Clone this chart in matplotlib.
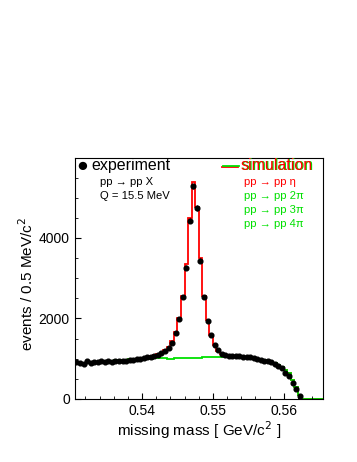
import numpy as np
import matplotlib
matplotlib.use('Agg')
import matplotlib.pyplot as plt

plt.rcParams['font.family'] = ['Liberation Sans', 'DejaVu Sans']

# binning: 70 bins of 0.5 MeV/c^2
edges = 0.5305 + 0.0005 * np.arange(71)
centers = 0.5 * (edges[:-1] + edges[1:])

# experiment (events per bin), no points beyond 0.5625
experiment = [910, 905, 880, 935, 900, 915, 910, 935, 925, 955,
              925, 945, 940, 955, 950, 975, 960, 985, 1000, 1030,
              1040, 1055, 1070, 1095, 1135, 1200, 1260, 1400, 1650, 1980,
              2540, 3265, 4430, 5280, 4740, 3435, 2530, 1945, 1590, 1340,
              1210, 1120, 1095, 1080, 1075, 1060, 1065, 1050, 1055, 1040,
              1030, 990, 960, 945, 935, 930, 860, 810, 760, 650,
              580, 400, 250, 80] + [np.nan] * 6

# simulated multi-pion background (2pi + 3pi + 4pi)
background = [880, 885, 890, 900, 905, 910, 920, 925, 935, 945,
              955, 965, 970, 975, 980, 985, 985, 990, 995, 1000,
              1005, 1005, 1010, 1010, 1010, 1015, 995, 1005, 1015, 1020,
              1020, 1025, 1025, 1030, 1030, 1030, 1035, 1040, 1040, 1045,
              1040, 1045, 1050, 1050, 1055, 1045, 1045, 1040, 1035, 1030,
              1020, 1000, 975, 960, 940, 920, 890, 850, 800, 730,
              640, 480, 300, 100, 0, 0, 0, 0, 0, 0]

# simulated pp -> pp eta signal
eta = [0] * 15 + [5, 8, 10, 15, 25,
                  40, 60, 80, 100, 140, 195, 285, 425, 645, 980,
                  1540, 2330, 3480, 4355, 3750, 2465, 1525, 920, 560, 305,
                  160, 85, 50, 30, 20, 12, 8, 5] + [0] * 22

experiment = np.array(experiment, dtype=float)
background = np.array(background, dtype=float)
total = background + np.array(eta, dtype=float)

W, H = 357, 462
fig = plt.figure(figsize=(W / 100, H / 100), dpi=100)
ax = fig.add_axes([74.7 / W, 1 - 399 / H, (322.7 - 74.7) / W, (399 - 158.3) / H])

green = '#00e000'
ax.stairs(total, edges, baseline=0, color='red', lw=1.3)
ax.stairs(background, edges, baseline=0, color=green, lw=1.3)
ax.errorbar(centers, experiment, yerr=np.sqrt(experiment), fmt='o', color='black',
            ms=3.4, elinewidth=0.8, capsize=0)

ax.set_xlim(0.5305, 0.5655)
ax.set_ylim(0, 5980)
ax.set_xticks([0.54, 0.55, 0.56])
ax.set_xticks(np.arange(0.532, 0.5655, 0.002), minor=True)
ax.set_yticks([0, 2000, 4000])
ax.set_yticks(np.arange(0, 6000, 500), minor=True)
ax.tick_params(which='both', direction='in', labelsize=10)
ax.tick_params(which='major', length=4.5)
ax.tick_params(which='minor', length=2.2)
ax.set_xlabel('missing mass [ GeV/c$^2$ ]', fontsize=11)
ax.set_ylabel('events / 0.5 MeV/c$^2$', fontsize=11)
ax.yaxis.set_label_coords(-0.155, 0.48)
ax.xaxis.set_label_coords(0.5, -0.083)


def px(x, y):
    return x / W, 1 - y / H


# legend / annotations
fig.text(*px(82, 167), '\u25cf', fontsize=14, ha='center', va='center')
fig.text(*px(91, 166), 'experiment', fontsize=11.5, va='center')
fig.text(*px(100, 182), 'pp \u2192 pp X', fontsize=8.1, va='center')
fig.text(*px(100, 196), 'Q = 15.5 MeV', fontsize=8.1, va='center')

fig.lines.append(plt.Line2D([222 / W, 238 / W], [1 - 167 / H, 1 - 167 / H],
                            transform=fig.transFigure, color='red', lw=1.3))
fig.lines.append(plt.Line2D([223 / W, 239 / W], [1 - 166 / H, 1 - 166 / H],
                            transform=fig.transFigure, color=green, lw=1.3))
fig.text(*px(242, 165), 'simulation', fontsize=11.5, va='center', color=green)
fig.text(*px(241, 166), 'simulation', fontsize=11.5, va='center', color='red')
fig.text(*px(244, 182), 'pp \u2192 pp \u03b7', fontsize=8.1, va='center', color='red')
fig.text(*px(244, 196), 'pp \u2192 pp 2\u03c0', fontsize=8.1, va='center', color=green)
fig.text(*px(244, 210), 'pp \u2192 pp 3\u03c0', fontsize=8.1, va='center', color=green)
fig.text(*px(244, 224), 'pp \u2192 pp 4\u03c0', fontsize=8.1, va='center', color=green)

fig.savefig('out.png', dpi=100)
